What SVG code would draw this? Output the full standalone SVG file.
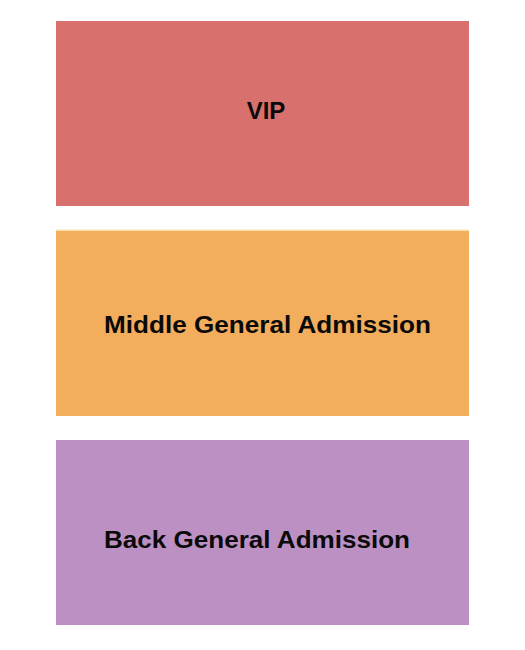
<svg xmlns="http://www.w3.org/2000/svg" width="525" height="650" viewBox="0 0 525 650">
<style>
.lbl{font-family:"Liberation Sans",Arial,sans-serif;font-weight:bold;font-size:24px;fill:#0a0a0a}
</style>
<rect width="525" height="650" fill="#ffffff"/>
<g id="vip">
<rect x="56" y="21" width="413" height="185" fill="#D8706E"/>
<text class="lbl" x="266" y="118.5" text-anchor="middle">VIP</text>
</g>
<g id="middle-ga">
<rect x="56" y="229.5" width="413" height="1.5" fill="#F5E2AE"/>
<rect x="56" y="231" width="413" height="185" fill="#F2AE5D"/>
<text class="lbl" x="104" y="333" textLength="327" lengthAdjust="spacingAndGlyphs">Middle General Admission</text>
</g>
<g id="back-ga">
<rect x="56" y="440" width="413" height="185" fill="#BD90C3"/>
<text class="lbl" x="104" y="548" textLength="306" lengthAdjust="spacingAndGlyphs">Back General Admission</text>
</g>
<g id="connectors"/>
</svg>
